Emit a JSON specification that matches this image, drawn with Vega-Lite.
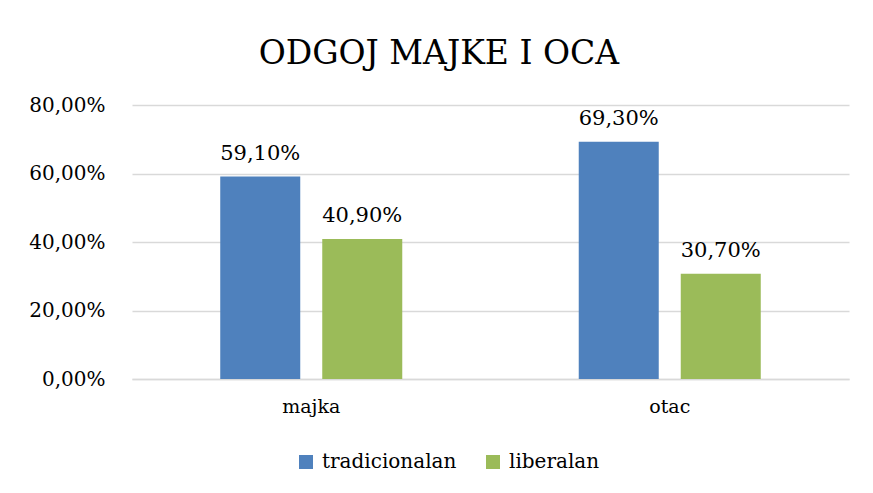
{
  "$schema": "https://vega.github.io/schema/vega-lite/v6.json",
  "width": 717,
  "height": 274,
  "autosize": {"type": "none"},
  "padding": {"left": 132, "top": 105, "right": 24, "bottom": 114},
  "background": "white",
  "config": {
    "locale": {"number": {"decimal": ",", "thousands": ".", "grouping": [3], "currency": ["", " €"]}},
    "font": "DejaVu Serif",
    "view": {"stroke": null},
    "axis": {"labelFont": "DejaVu Serif", "labelColor": "#000000"},
    "legend": {"labelFont": "DejaVu Serif"}
  },
  "title": {
    "text": "ODGOJ MAJKE I OCA",
    "font": "DejaVu Serif",
    "fontSize": 33,
    "fontWeight": "normal",
    "color": "#000000",
    "anchor": "middle",
    "frame": "bounds",
    "offset": 24,
    "dx": 0
  },
  "data": {
    "values": [
      {"roditelj": "majka", "odgoj": "tradicionalan", "udio": 0.591},
      {"roditelj": "majka", "odgoj": "liberalan", "udio": 0.409},
      {"roditelj": "otac", "odgoj": "tradicionalan", "udio": 0.693},
      {"roditelj": "otac", "odgoj": "liberalan", "udio": 0.307}
    ]
  },
  "encoding": {
    "x": {
      "field": "roditelj",
      "type": "nominal",
      "sort": ["majka", "otac"],
      "scale": {"paddingInner": 0, "paddingOuter": 0},
      "axis": {
        "title": null,
        "labelAngle": 0,
        "labelFontSize": 19,
        "labelPadding": 18,
        "ticks": false,
        "domainColor": "#d9d9d9",
        "domainWidth": 1.5
      }
    },
    "xOffset": {
      "field": "odgoj",
      "type": "nominal",
      "sort": ["tradicionalan", "liberalan"],
      "scale": {"paddingInner": 0.2157, "paddingOuter": 0.865}
    },
    "y": {
      "field": "udio",
      "type": "quantitative",
      "scale": {"domain": [0, 0.8], "nice": false},
      "axis": {
        "title": null,
        "format": ".2%",
        "values": [0, 0.2, 0.4, 0.6, 0.8],
        "labelFontSize": 20,
        "labelPadding": 27,
        "ticks": false,
        "domain": false,
        "gridColor": "#d9d9d9",
        "gridWidth": 1.5
      }
    }
  },
  "layer": [
    {
      "mark": {"type": "bar"},
      "encoding": {
        "color": {
          "field": "odgoj",
          "type": "nominal",
          "sort": ["tradicionalan", "liberalan"],
          "scale": {"domain": ["tradicionalan", "liberalan"], "range": ["#4F81BD", "#9BBB59"]},
          "legend": {
            "title": null,
            "orient": "none",
            "direction": "horizontal",
            "legendX": 164,
            "legendY": 347,
            "symbolType": "square",
            "symbolSize": 196,
            "symbolStrokeWidth": 0,
            "labelFontSize": 20,
            "labelColor": "#000000",
            "labelOffset": 6,
            "columnPadding": 26
          }
        }
      }
    },
    {
      "mark": {"type": "text", "baseline": "bottom", "dy": -13, "fontSize": 21, "color": "#000000", "font": "DejaVu Serif"},
      "encoding": {
        "text": {"field": "udio", "type": "quantitative", "format": ".2%"}
      }
    }
  ]
}
